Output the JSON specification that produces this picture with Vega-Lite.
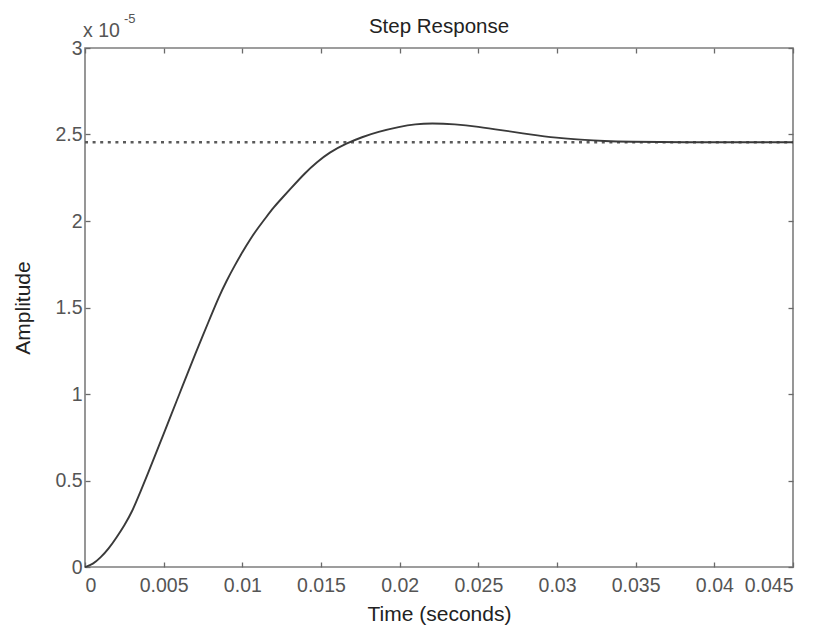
{
  "$schema": "https://vega.github.io/schema/vega-lite/v6.json",
  "width": 708,
  "height": 519,
  "autosize": {"type": "none"},
  "padding": {"left": 85, "top": 48, "right": 27, "bottom": 59},
  "background": "white",
  "config": {
    "font": "Liberation Sans",
    "view": {"stroke": "#7d7d7d", "strokeWidth": 1.6},
    "axis": {
      "domain": false,
      "grid": false,
      "tickSize": -5,
      "tickColor": "#6a6a6a",
      "tickWidth": 1.3,
      "labelFont": "Liberation Sans",
      "labelFontSize": 19.5,
      "labelColor": "#555555",
      "titleFont": "Liberation Sans",
      "titleFontSize": 21,
      "titleFontWeight": "normal",
      "titleColor": "#222222"
    }
  },
  "title": {
    "text": "Step Response",
    "fontSize": 20.5,
    "fontWeight": "normal",
    "color": "#222222",
    "font": "Liberation Sans",
    "offset": -24
  },
  "datasets": {
    "resp": [
      {"t": 0, "a": 0},
      {"t": 0.0005, "a": 0.015},
      {"t": 0.001, "a": 0.055},
      {"t": 0.0015, "a": 0.105},
      {"t": 0.002, "a": 0.17},
      {"t": 0.0025, "a": 0.24},
      {"t": 0.003, "a": 0.32},
      {"t": 0.0035, "a": 0.43},
      {"t": 0.004, "a": 0.54},
      {"t": 0.0045, "a": 0.655},
      {"t": 0.005, "a": 0.77},
      {"t": 0.0055, "a": 0.885},
      {"t": 0.006, "a": 1.0},
      {"t": 0.0065, "a": 1.115},
      {"t": 0.007, "a": 1.23},
      {"t": 0.0075, "a": 1.34},
      {"t": 0.008, "a": 1.45},
      {"t": 0.0085, "a": 1.56},
      {"t": 0.009, "a": 1.655},
      {"t": 0.0095, "a": 1.74},
      {"t": 0.01, "a": 1.82},
      {"t": 0.0105, "a": 1.895},
      {"t": 0.011, "a": 1.96},
      {"t": 0.0115, "a": 2.02},
      {"t": 0.012, "a": 2.08},
      {"t": 0.0125, "a": 2.13},
      {"t": 0.013, "a": 2.18},
      {"t": 0.014, "a": 2.28},
      {"t": 0.01475, "a": 2.34},
      {"t": 0.0155, "a": 2.395},
      {"t": 0.01665, "a": 2.45},
      {"t": 0.0176, "a": 2.485},
      {"t": 0.0186, "a": 2.515},
      {"t": 0.02, "a": 2.545},
      {"t": 0.021, "a": 2.56},
      {"t": 0.022, "a": 2.565},
      {"t": 0.0235, "a": 2.56},
      {"t": 0.025, "a": 2.545},
      {"t": 0.0265, "a": 2.525},
      {"t": 0.0283, "a": 2.5},
      {"t": 0.03, "a": 2.48},
      {"t": 0.0315, "a": 2.47},
      {"t": 0.033, "a": 2.462},
      {"t": 0.0346, "a": 2.458},
      {"t": 0.0374, "a": 2.455},
      {"t": 0.045, "a": 2.455}
    ],
    "ss": [{"t0": 0, "t1": 0.045, "a": 2.455}],
    "note": [{"t": 0, "a": 3, "base": "x 10", "exp": "-5"}]
  },
  "layer": [
    {
      "data": {"name": "ss"},
      "mark": {"type": "rule", "color": "#5a5a5a", "strokeWidth": 2.4, "strokeDash": [3, 4.6]},
      "encoding": {
        "x": {"field": "t0", "type": "quantitative", "scale": {"domain": [0, 0.045], "nice": false, "zero": false},
              "axis": {"orient": "top", "labels": false, "title": null, "values": [0, 0.005, 0.01, 0.015, 0.02, 0.025, 0.03, 0.035, 0.04, 0.045]}},
        "x2": {"field": "t1"},
        "y": {"field": "a", "type": "quantitative", "scale": {"domain": [0, 3], "nice": false},
              "axis": {"orient": "right", "labels": false, "title": null, "values": [0, 0.5, 1, 1.5, 2, 2.5, 3]}}
      }
    },
    {
      "data": {"name": "resp"},
      "mark": {"type": "line", "color": "#3a3a3a", "strokeWidth": 1.9, "interpolate": "basis"},
      "encoding": {
        "x": {"field": "t", "type": "quantitative",
              "axis": {"orient": "bottom", "title": "Time (seconds)", "format": "~g", "labelPadding": 14, "titlePadding": 9,
                       "values": [0, 0.005, 0.01, 0.015, 0.02, 0.025, 0.03, 0.035, 0.04, 0.045]}},
        "y": {"field": "a", "type": "quantitative",
              "axis": {"orient": "left", "title": "Amplitude", "format": "~g", "labelPadding": 8, "titlePadding": 21,
                       "values": [0, 0.5, 1, 1.5, 2, 2.5, 3]}}
      }
    },
    {
      "data": {"name": "note"},
      "mark": {"type": "text", "align": "left", "baseline": "alphabetic", "fontSize": 19.5, "color": "#555555", "dy": -11, "dx": -2},
      "encoding": {
        "x": {"field": "t", "type": "quantitative", "axis": null},
        "y": {"field": "a", "type": "quantitative", "axis": null},
        "text": {"field": "base"}
      }
    },
    {
      "data": {"name": "note"},
      "mark": {"type": "text", "align": "left", "baseline": "alphabetic", "fontSize": 13, "color": "#555555", "dy": -25, "dx": 39},
      "encoding": {
        "x": {"field": "t", "type": "quantitative", "axis": null},
        "y": {"field": "a", "type": "quantitative", "axis": null},
        "text": {"field": "exp"}
      }
    }
  ],
  "resolve": {"axis": {"x": "independent", "y": "independent"}}
}
